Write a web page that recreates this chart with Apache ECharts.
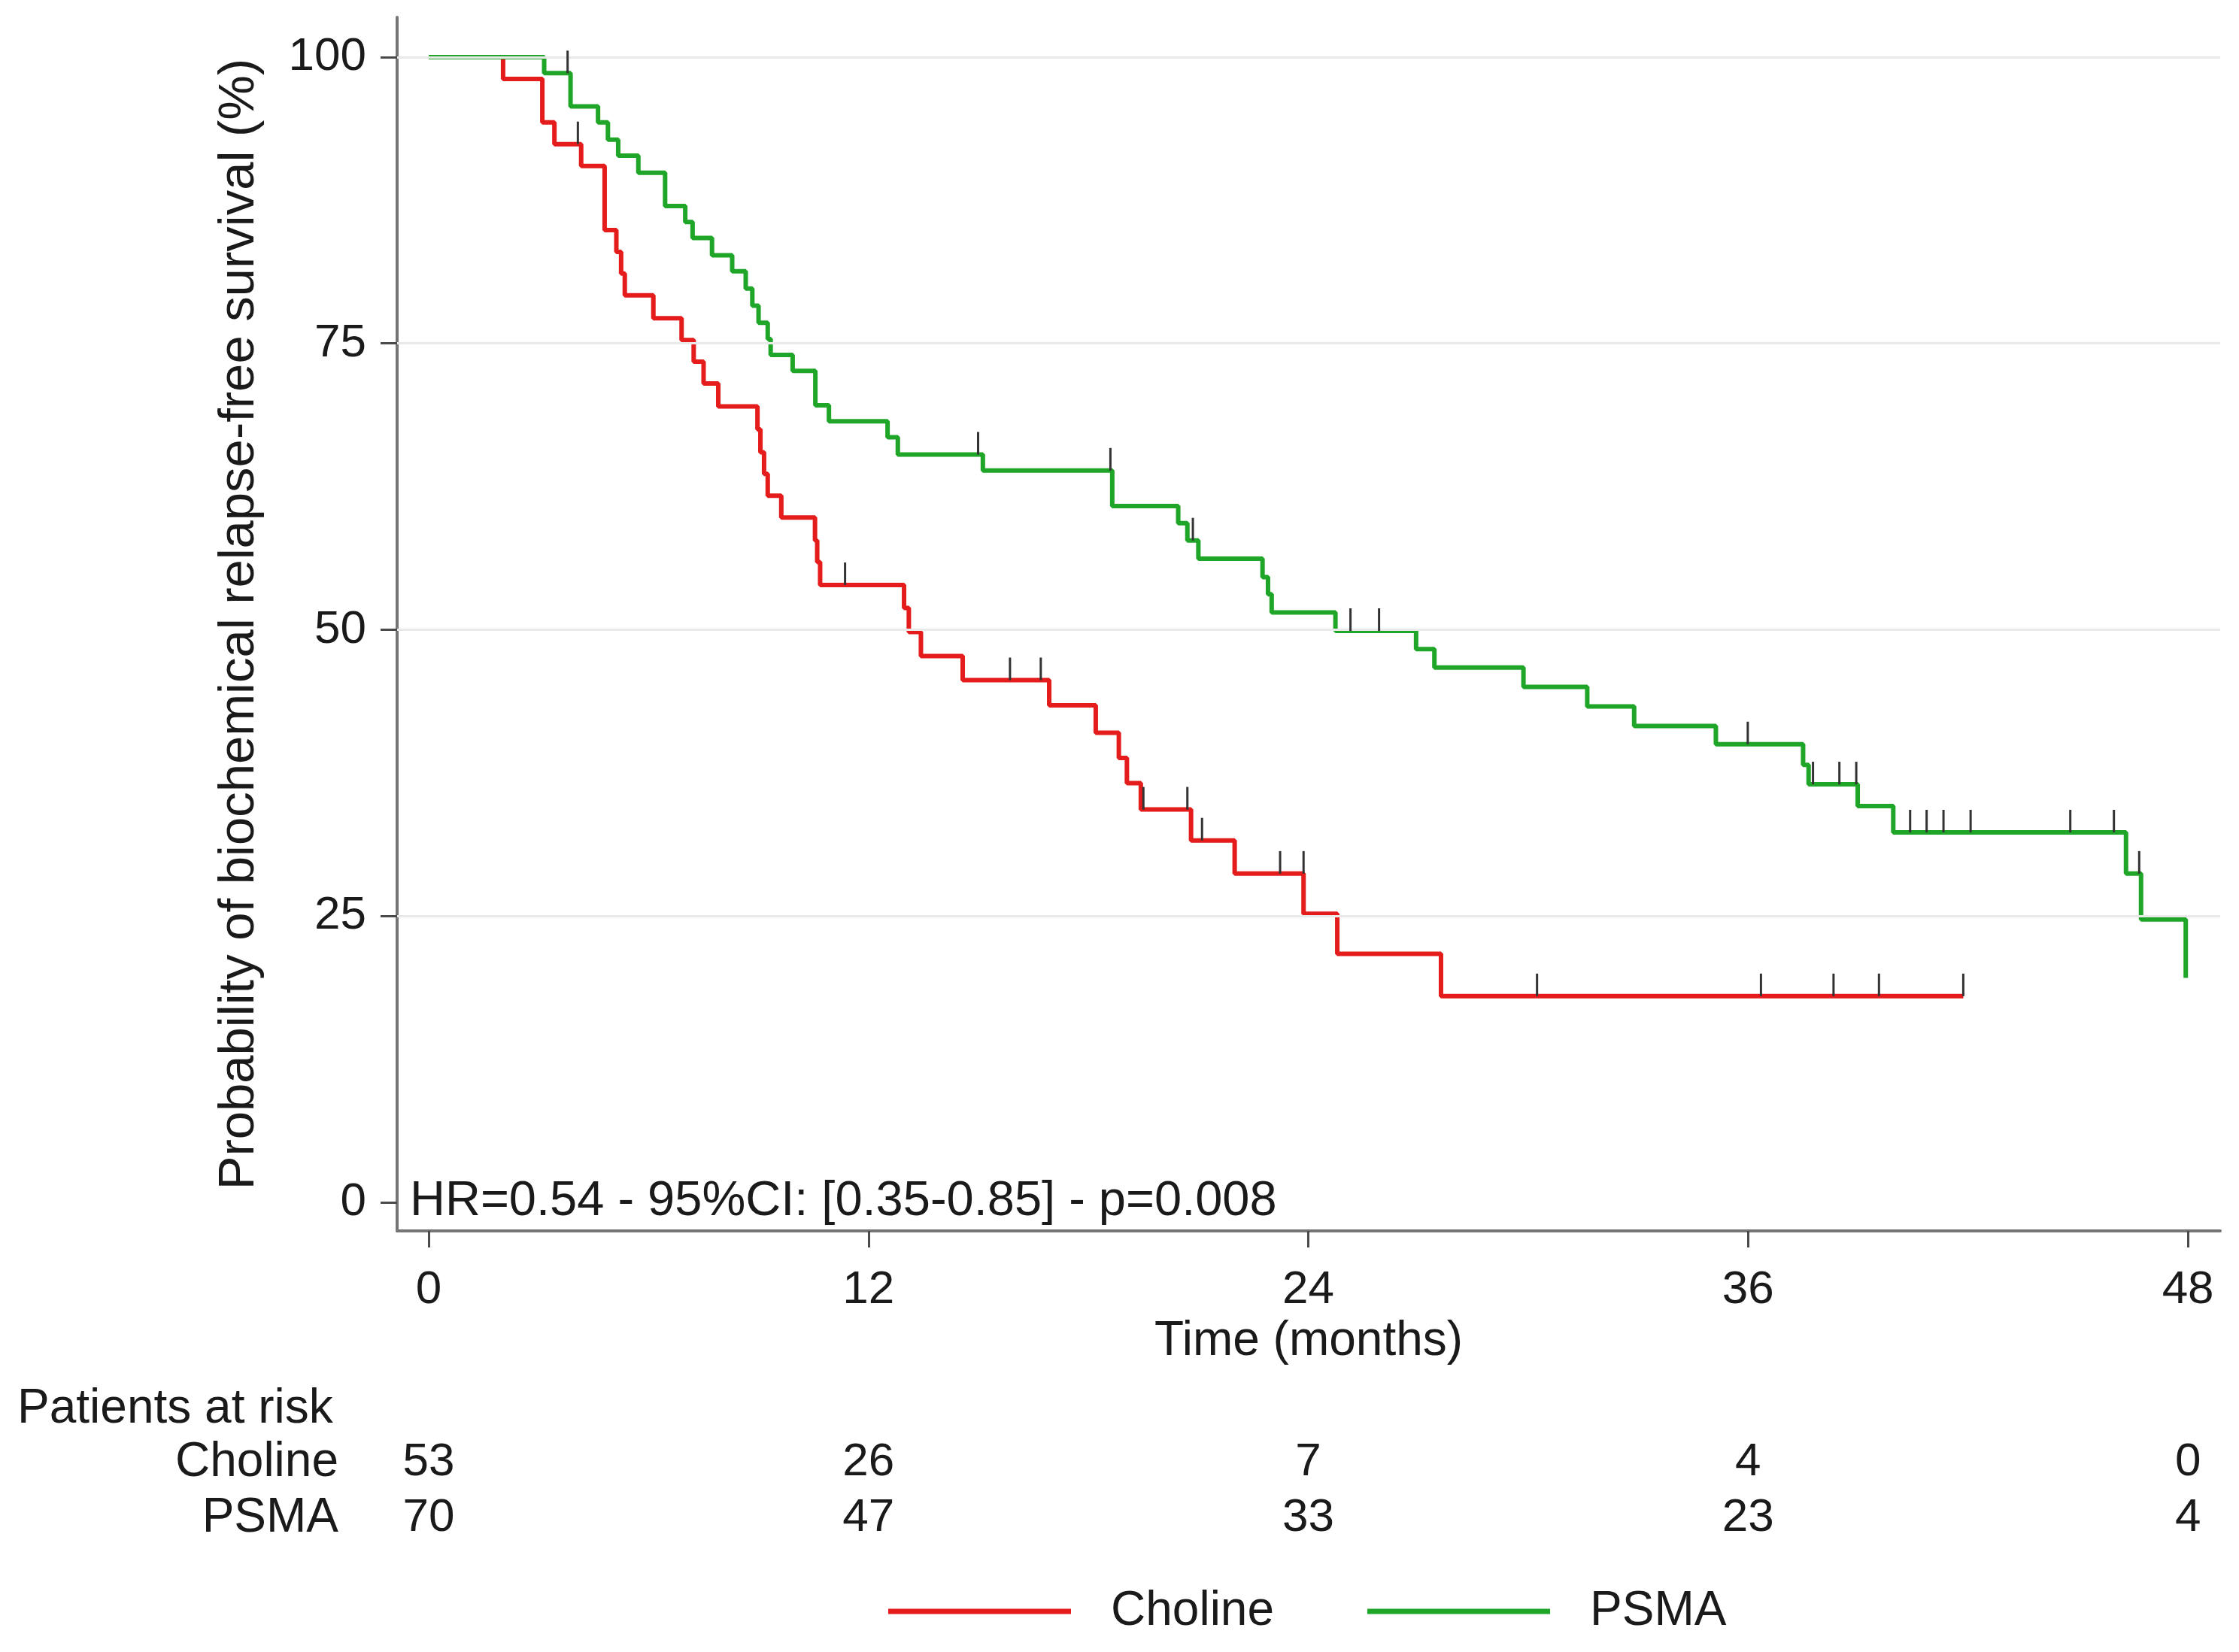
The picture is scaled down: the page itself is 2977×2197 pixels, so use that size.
<!DOCTYPE html>
<html>
<head>
<meta charset="utf-8">
<script src="https://cdn.jsdelivr.net/npm/echarts@6/dist/echarts.min.js"></script>
<style>
html,body{margin:0;padding:0;background:#fff;}
#c{width:2977px;height:2197px;}
</style>
</head>
<body>
<div id="c"></div>
<script>
// ---- data ----
const xTicks = [0, 12, 24, 36, 48];
const yTicks = [0, 25, 50, 75, 100];

const cholineTime = [0,2.03,3.1,3.43,4.16,4.8,5.12,5.25,5.35,6.13,6.9,7.23,7.5,7.9,8.97,9.05,9.15,9.25,9.62,10.54,10.6,10.68,12.97,13.1,13.43,14.57,16.93,18.2,18.83,19.05,19.43,20.8,21.99,23.87,24.79,27.62,41.87];
const cholineSurv = [100,98.1,94.3,92.4,90.5,84.9,83.0,81.1,79.2,77.2,75.3,73.4,71.5,69.5,67.5,65.5,63.6,61.7,59.8,57.8,55.9,53.9,51.9,49.8,47.7,45.6,43.4,41.0,38.8,36.6,34.3,31.6,28.7,25.2,21.7,18.0,18.0];
const cholineCensorTime = [4.07,11.36,15.86,16.7,19.5,20.7,21.1,23.23,23.87,30.24,36.35,38.33,39.57,41.87];
const cholineCensorSurv = [92.4,53.9,45.6,45.6,34.3,34.3,31.6,28.7,28.7,18.0,18.0,18.0,18.0,18.0];

const psmaTime = [0,3.15,3.87,4.62,4.89,5.17,5.72,6.45,7.0,7.2,7.73,8.28,8.65,8.83,9.0,9.25,9.33,9.93,10.55,10.92,12.52,12.8,15.12,18.65,20.45,20.7,21.0,22.75,22.9,23.0,24.74,26.94,27.44,29.87,31.61,32.89,35.12,37.5,37.65,38.99,39.96,46.31,46.72,47.94];
const psmaSurv = [100,98.6,95.7,94.3,92.8,91.4,89.9,87.0,85.6,84.2,82.7,81.3,79.8,78.3,76.8,75.4,74.0,72.6,69.6,68.2,66.8,65.3,63.9,60.8,59.3,57.8,56.2,54.6,53.1,51.5,49.9,48.3,46.7,45.0,43.3,41.6,40.0,38.2,36.5,34.6,32.3,28.7,24.7,19.6];
const psmaCensorTime = [3.79,14.99,18.6,20.85,25.15,25.93,35.99,37.77,38.49,38.95,40.42,40.87,41.33,42.07,44.79,45.98,46.67];
const psmaCensorSurv = [98.6,65.3,63.9,57.8,49.9,49.9,40.0,36.5,36.5,36.5,32.3,32.3,32.3,32.3,32.3,32.3,28.7];

const riskGroups = ['Choline', 'PSMA'];
const riskTimes = [0, 12, 24, 36, 48];
const riskCholine = [53, 26, 7, 4, 0];
const riskPSMA = [70, 47, 33, 23, 4];

const hrText = 'HR=0.54 - 95%CI: [0.35-0.85] - p=0.008';

// ---- build ----
const zip = (a, b) => a.map((v, i) => [v, b[i]]);
const FONT = '"Liberation Sans", Arial, sans-serif';
const RED = '#e41c1c';
const GREEN = '#1fa528';
const TXT = '#1a1a1a';

const riskData = [];
riskTimes.forEach((t, i) => {
  riskData.push([t, 0, riskCholine[i]]);
  riskData.push([t, 1, riskPSMA[i]]);
});

const tickSymbol = {
  type: 'scatter',
  symbol: 'rect',
  symbolSize: [3, 30],
  symbolOffset: [0, -15],
  itemStyle: { color: '#333333', opacity: 1 },
  z: 5,
  silent: true
};

const chart = echarts.init(document.getElementById('c'), null, { renderer: 'canvas' });
chart.setOption({
  backgroundColor: '#ffffff',
  animation: false,
  textStyle: { fontFamily: FONT },
  grid: [
    { left: 528, right: 25, top: 23, bottom: 560, containLabel: false },
    { left: 528, right: 25, top: 1908, height: 148, containLabel: false }
  ],
  xAxis: [
    {
      type: 'value', gridIndex: 0, min: -0.862, max: 48.88,
      axisLine: { show: true, onZero: false, lineStyle: { color: '#757575', width: 4 } },
      axisTick: { show: true, customValues: xTicks, length: 22, lineStyle: { color: '#4a4a4a', width: 3 } },
      axisLabel: { show: true, customValues: xTicks, margin: 48, fontSize: 62, color: TXT, fontFamily: FONT },
      splitLine: { show: false },
      name: 'Time (months)', nameLocation: 'middle', nameGap: 110,
      nameTextStyle: { fontSize: 64, color: TXT, fontFamily: FONT }
    },
    { type: 'value', gridIndex: 1, min: -0.862, max: 48.88, show: false }
  ],
  yAxis: [
    {
      type: 'value', gridIndex: 0, min: -2.5, max: 103.48,
      axisLine: { show: true, onZero: false, lineStyle: { color: '#757575', width: 4 } },
      axisTick: { show: true, customValues: yTicks, length: 22, lineStyle: { color: '#4a4a4a', width: 3 } },
      axisLabel: { show: true, customValues: yTicks, margin: 41, fontSize: 62, color: TXT, fontFamily: FONT },
      splitLine: { show: false },
      name: 'Probability of biochemical relapse-free survival (%)', nameLocation: 'middle', nameGap: 176,
      nameTextStyle: { fontSize: 67, color: TXT, fontFamily: FONT }
    },
    {
      type: 'category', gridIndex: 1, data: riskGroups, inverse: true,
      axisLine: { show: false }, axisTick: { show: false }, splitLine: { show: false },
      axisLabel: { show: true, interval: 0, margin: 78, fontSize: 64, color: TXT, fontFamily: FONT }
    }
  ],
  legend: {
    left: 1176, top: 2106,
    icon: 'rect', itemWidth: 243, itemHeight: 7, itemGap: 124,
    textStyle: { fontSize: 64, color: TXT, fontFamily: FONT, padding: [0, 0, 0, 48] },
    data: ['Choline', 'PSMA']
  },
  graphic: [
    { type: 'text', left: 545, top: 1566, z: 10, style: { text: hrText, font: '65px ' + FONT, fill: TXT } },
    { type: 'text', left: 23, top: 1842, style: { text: 'Patients at risk', font: '64px ' + FONT, fill: TXT } }
  ],
  series: [
    {
      name: 'gridlines', type: 'line', xAxisIndex: 0, yAxisIndex: 0, data: [], silent: true, z: 1,
      markLine: {
        silent: true, symbol: ['none', 'none'], label: { show: false },
        lineStyle: { color: '#e9e9e9', width: 3, type: 'solid' },
        data: yTicks.filter(v => v > 0).map(v => ({ yAxis: v }))
      }
    },
    {
      name: 'Choline', type: 'line', step: 'end', xAxisIndex: 0, yAxisIndex: 0,
      data: zip(cholineTime, cholineSurv), symbol: 'none', z: 3,
      lineStyle: { color: RED, width: 6 }, itemStyle: { color: RED }
    },
    {
      name: 'PSMA', type: 'line', step: 'end', xAxisIndex: 0, yAxisIndex: 0,
      data: zip(psmaTime, psmaSurv), symbol: 'none', z: 3,
      lineStyle: { color: GREEN, width: 6 }, itemStyle: { color: GREEN }
    },
    Object.assign({ name: 'cholineCensor', xAxisIndex: 0, yAxisIndex: 0, data: zip(cholineCensorTime, cholineCensorSurv) }, tickSymbol),
    Object.assign({ name: 'psmaCensor', xAxisIndex: 0, yAxisIndex: 0, data: zip(psmaCensorTime, psmaCensorSurv) }, tickSymbol),
    {
      name: 'risk', type: 'scatter', xAxisIndex: 1, yAxisIndex: 1, data: riskData,
      symbol: 'circle', symbolSize: 1, itemStyle: { color: 'rgba(0,0,0,0)', opacity: 1 }, silent: true,
      label: {
        show: true, position: 'inside', fontSize: 62, color: TXT, fontFamily: FONT, opacity: 1,
        textBorderWidth: 0, textShadowBlur: 0,
        formatter: p => String(p.value[2])
      }
    }
  ]
});
</script>
</body>
</html>
